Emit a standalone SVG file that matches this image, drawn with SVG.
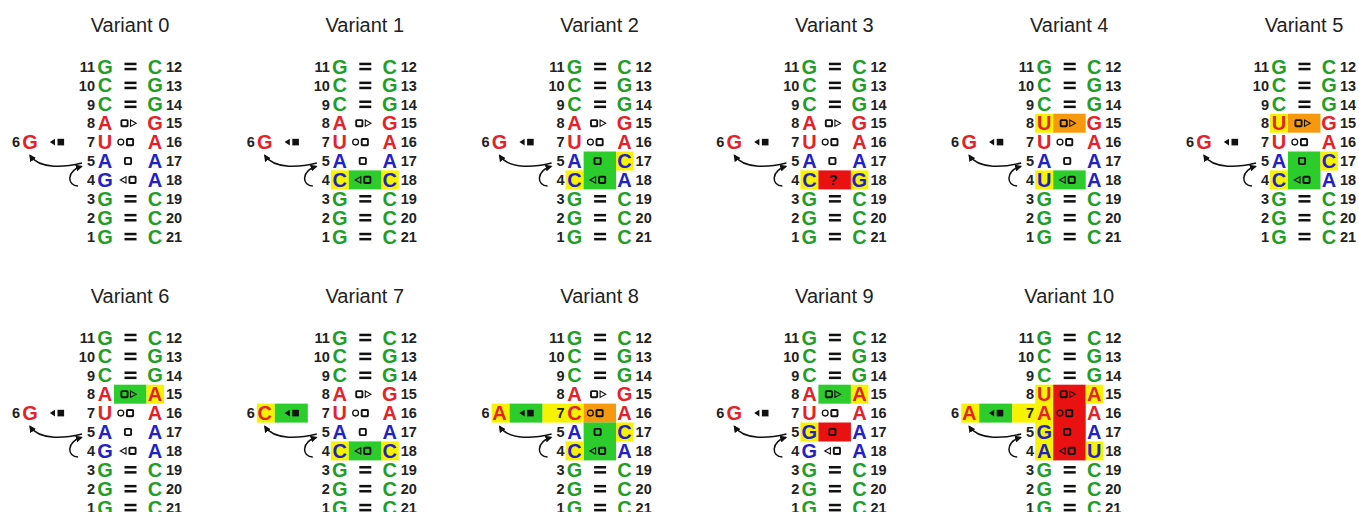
<svg xmlns="http://www.w3.org/2000/svg" xmlns:xlink="http://www.w3.org/1999/xlink" width="1359" height="512" viewBox="0 0 1359 512">
  <style>
    .t{font-family:"Liberation Sans",Arial,sans-serif;font-size:20px;fill:#222;text-anchor:middle}
    .n{font-family:"Liberation Sans",Arial,sans-serif;font-size:14.5px;font-weight:bold;fill:#222}
    .nl{text-anchor:end}
    .b{font-family:"Liberation Sans",Arial,sans-serif;font-size:20px;font-weight:bold;text-anchor:middle}
    .q{font-family:"Liberation Sans",Arial,sans-serif;font-size:14px;font-weight:bold;fill:#111;text-anchor:middle}
    .g{fill:#1f9e2a}
    .r{fill:#e62129}
    .u{fill:#2222c4}
    .y{fill:#f7f300}
    .gr{fill:#2dcc2d}
    .o{fill:#f7990f}
    .rd{fill:#e91111}
    .os{fill:none;stroke:#111;stroke-width:1.9}
    .ot{fill:none;stroke:#111;stroke-width:1.1}
    .k{fill:#111}
    .arr{fill:none;stroke:#111;stroke-width:1.5;marker-end:url(#ah)}
  </style>
  <defs>
    <marker id="ah" viewBox="0 0 10 10" refX="8" refY="5" markerWidth="7" markerHeight="7" markerUnits="userSpaceOnUse" orient="auto">
      <path d="M0,0 L10,5 L0,10 z" fill="#111"/>
    </marker>
    <!-- Leontis-Westhof glyph pieces -->
    <rect id="sq" x="-3.1" y="-3.1" width="6.2" height="6.2" rx="0.8" class="os"/>
    <g id="eq" class="k">
      <rect x="-6" y="-3.8" width="12" height="2.5"/>
      <rect x="-6" y="1.3" width="12" height="2.5"/>
    </g>
    <!-- row 4 pair symbol: open triangle + open square -->
    <g id="s4">
      <path class="ot" d="M126,176.7 L120.3,179.9 L126,183.1 z"/>
      <use href="#sq" x="132.5" y="179.9"/>
    </g>
    <!-- shared helix: constant pairs, numbering and symbols -->
    <g id="stem">
      <g class="b g">
        <text x="105" y="73.5">G</text><text x="155" y="73.5">C</text>
        <text x="105" y="92.4">C</text><text x="155" y="92.4">G</text>
        <text x="105" y="111.3">C</text><text x="155" y="111.3">G</text>
        <text x="105" y="205.8">G</text><text x="155" y="205.8">C</text>
        <text x="105" y="224.7">G</text><text x="155" y="224.7">C</text>
        <text x="105" y="243.6">G</text><text x="155" y="243.6">C</text>
      </g>
      <g class="n nl">
        <text x="95" y="71.7">11</text>
        <text x="95" y="90.6">10</text>
        <text x="95" y="109.5">9</text>
        <text x="95" y="128.4">8</text>
        <text x="95" y="147.3">7</text>
        <text x="95" y="166.2">5</text>
        <text x="95" y="185.1">4</text>
        <text x="95" y="204">3</text>
        <text x="95" y="222.9">2</text>
        <text x="95" y="241.8">1</text>
        <text x="20" y="147.3">6</text>
      </g>
      <g class="n">
        <text x="166" y="71.7">12</text>
        <text x="166" y="90.6">13</text>
        <text x="166" y="109.5">14</text>
        <text x="166" y="128.4">15</text>
        <text x="166" y="147.3">16</text>
        <text x="166" y="166.2">17</text>
        <text x="166" y="185.1">18</text>
        <text x="166" y="204">19</text>
        <text x="166" y="222.9">20</text>
        <text x="166" y="241.8">21</text>
      </g>
      <use href="#eq" x="130.5" y="66.5"/>
      <use href="#eq" x="130.5" y="85.4"/>
      <use href="#eq" x="130.5" y="104.3"/>
      <use href="#eq" x="130.5" y="198.8"/>
      <use href="#eq" x="130.5" y="217.7"/>
      <use href="#eq" x="130.5" y="236.6"/>
      <!-- row 8: square + open triangle -->
      <use href="#sq" x="124.5" y="123.2"/>
      <path class="ot" d="M130.5,120 L136.2,123.2 L130.5,126.4 z"/>
      <!-- row 7: circle + square -->
      <circle class="ot" cx="120.8" cy="142.1" r="2.9" style="stroke-width:1.3"/>
      <use href="#sq" x="130" y="142.1"/>
      <!-- row 5: square -->
      <use href="#sq" x="128" y="161"/>
      <!-- 6: filled triangle + filled square -->
      <path class="k" d="M55,138.8 L49.8,142.1 L55,145.4 z"/>
      <rect class="k" x="57.5" y="138.8" width="6.6" height="6.6"/>
    </g>
    <g id="arr">
      <path class="arr" d="M82,163 C66,167 40,170 30,155.5"/>
      <path class="arr" d="M78,186 C67,186 66,171 81.5,166.5"/>
    </g>
  </defs>

  <rect width="1359" height="512" fill="#fff"/>

  <g id="variant-0">
    <use href="#stem"/><use href="#s4"/>
    <g class="b">
      <text class="r" x="105" y="130.2">A</text><text class="r" x="105" y="149.1">U</text>
      <text class="u" x="105" y="168">A</text><text class="u" x="105" y="186.9">G</text>
      <text class="r" x="155" y="130.2">G</text><text class="r" x="155" y="149.1">A</text>
      <text class="u" x="155" y="168">A</text><text class="u" x="155" y="186.9">A</text>
      <text class="r" x="30" y="149.1">G</text>
    </g>
    <text class="t" x="130" y="31.5">Variant 0</text>
  </g>

  <g id="variant-1" transform="translate(234.8,0)">
    <rect class="y" x="96" y="170.4" width="18" height="19"/>
    <rect class="gr" x="114" y="170.4" width="32.5" height="19"/>
    <rect class="y" x="146.5" y="170.4" width="17.5" height="19"/>
    <use href="#stem"/><use href="#s4"/>
    <g class="b">
      <text class="r" x="105" y="130.2">A</text><text class="r" x="105" y="149.1">U</text>
      <text class="u" x="105" y="168">A</text><text class="u" x="105" y="186.9">C</text>
      <text class="r" x="155" y="130.2">G</text><text class="r" x="155" y="149.1">A</text>
      <text class="u" x="155" y="168">A</text><text class="u" x="155" y="186.9">C</text>
      <text class="r" x="30" y="149.1">G</text>
    </g>
    <text class="t" x="130" y="31.5">Variant 1</text>
  </g>

  <g id="variant-2" transform="translate(469.6,0)">
    <rect class="y" x="96" y="170.4" width="18" height="19"/>
    <rect class="gr" x="114" y="151.5" width="32.5" height="37.9"/>
    <rect class="y" x="146.5" y="151.5" width="17.5" height="19"/>
    <use href="#stem"/><use href="#s4"/>
    <g class="b">
      <text class="r" x="105" y="130.2">A</text><text class="r" x="105" y="149.1">U</text>
      <text class="u" x="105" y="168">A</text><text class="u" x="105" y="186.9">C</text>
      <text class="r" x="155" y="130.2">G</text><text class="r" x="155" y="149.1">A</text>
      <text class="u" x="155" y="168">C</text><text class="u" x="155" y="186.9">A</text>
      <text class="r" x="30" y="149.1">G</text>
    </g>
    <text class="t" x="130" y="31.5">Variant 2</text>
  </g>

  <g id="variant-3" transform="translate(704.4,0)">
    <rect class="y" x="96" y="170.4" width="18" height="19"/>
    <rect class="rd" x="114" y="170.4" width="32.5" height="19"/>
    <rect class="y" x="146.5" y="170.4" width="17.5" height="19"/>
    <use href="#stem"/>
    <text class="q" x="129" y="184.9">?</text>
    <g class="b">
      <text class="r" x="105" y="130.2">A</text><text class="r" x="105" y="149.1">U</text>
      <text class="u" x="105" y="168">A</text><text class="u" x="105" y="186.9">C</text>
      <text class="r" x="155" y="130.2">G</text><text class="r" x="155" y="149.1">A</text>
      <text class="u" x="155" y="168">A</text><text class="u" x="155" y="186.9">G</text>
      <text class="r" x="30" y="149.1">G</text>
    </g>
    <text class="t" x="130" y="31.5">Variant 3</text>
  </g>

  <g id="variant-4" transform="translate(939.2,0)">
    <rect class="y" x="96" y="113.7" width="18" height="19"/>
    <rect class="o" x="114" y="113.7" width="32.5" height="19"/>
    <rect class="y" x="96" y="170.4" width="18" height="19"/>
    <rect class="gr" x="114" y="170.4" width="32.5" height="19"/>
    <use href="#stem"/><use href="#s4"/>
    <g class="b">
      <text class="r" x="105" y="130.2">U</text><text class="r" x="105" y="149.1">U</text>
      <text class="u" x="105" y="168">A</text><text class="u" x="105" y="186.9">U</text>
      <text class="r" x="155" y="130.2">G</text><text class="r" x="155" y="149.1">A</text>
      <text class="u" x="155" y="168">A</text><text class="u" x="155" y="186.9">A</text>
      <text class="r" x="30" y="149.1">G</text>
    </g>
    <text class="t" x="130" y="31.5">Variant 4</text>
  </g>

  <g id="variant-5" transform="translate(1174,0)">
    <rect class="y" x="96" y="113.7" width="18" height="19"/>
    <rect class="o" x="114" y="113.7" width="32.5" height="19"/>
    <rect class="gr" x="114" y="151.5" width="32.5" height="37.9"/>
    <rect class="y" x="146.5" y="151.5" width="17.5" height="19"/>
    <rect class="y" x="96" y="170.4" width="18" height="19"/>
    <use href="#stem"/><use href="#s4"/>
    <g class="b">
      <text class="r" x="105" y="130.2">U</text><text class="r" x="105" y="149.1">U</text>
      <text class="u" x="105" y="168">A</text><text class="u" x="105" y="186.9">C</text>
      <text class="r" x="155" y="130.2">G</text><text class="r" x="155" y="149.1">A</text>
      <text class="u" x="155" y="168">C</text><text class="u" x="155" y="186.9">A</text>
      <text class="r" x="30" y="149.1">G</text>
    </g>
    <text class="t" x="130" y="31.5">Variant 5</text>
  </g>

  <g id="variant-6" transform="translate(0,271)">
    <rect class="gr" x="114" y="113.7" width="32.5" height="19"/>
    <rect class="y" x="146.5" y="113.7" width="17.5" height="19"/>
    <use href="#stem"/><use href="#s4"/>
    <g class="b">
      <text class="r" x="105" y="130.2">A</text><text class="r" x="105" y="149.1">U</text>
      <text class="u" x="105" y="168">A</text><text class="u" x="105" y="186.9">G</text>
      <text class="r" x="155" y="130.2">A</text><text class="r" x="155" y="149.1">A</text>
      <text class="u" x="155" y="168">A</text><text class="u" x="155" y="186.9">A</text>
      <text class="r" x="30" y="149.1">G</text>
    </g>
    <text class="t" x="130" y="31.5">Variant 6</text>
  </g>

  <g id="variant-7" transform="translate(234.8,271)">
    <rect class="y" x="22" y="132.6" width="18" height="19"/>
    <rect class="gr" x="40" y="132.6" width="33" height="19"/>
    <rect class="y" x="96" y="170.4" width="18" height="19"/>
    <rect class="gr" x="114" y="170.4" width="32.5" height="19"/>
    <rect class="y" x="146.5" y="170.4" width="17.5" height="19"/>
    <use href="#stem"/><use href="#s4"/>
    <g class="b">
      <text class="r" x="105" y="130.2">A</text><text class="r" x="105" y="149.1">U</text>
      <text class="u" x="105" y="168">A</text><text class="u" x="105" y="186.9">C</text>
      <text class="r" x="155" y="130.2">G</text><text class="r" x="155" y="149.1">A</text>
      <text class="u" x="155" y="168">A</text><text class="u" x="155" y="186.9">C</text>
      <text class="r" x="30" y="149.1">C</text>
    </g>
    <text class="t" x="130" y="31.5">Variant 7</text>
  </g>

  <g id="variant-8" transform="translate(469.6,271)">
    <rect class="y" x="22" y="132.6" width="18" height="19"/>
    <rect class="gr" x="40" y="132.6" width="33" height="19"/>
    <rect class="y" x="73" y="132.6" width="41" height="19"/>
    <rect class="o" x="114" y="132.6" width="32.5" height="19"/>
    <rect class="gr" x="114" y="151.5" width="32.5" height="37.9"/>
    <rect class="y" x="146.5" y="151.5" width="17.5" height="19"/>
    <rect class="y" x="96" y="170.4" width="18" height="19"/>
    <use href="#stem"/><use href="#s4"/>
    <g class="b">
      <text class="r" x="105" y="130.2">A</text><text class="r" x="105" y="149.1">C</text>
      <text class="u" x="105" y="168">A</text><text class="u" x="105" y="186.9">C</text>
      <text class="r" x="155" y="130.2">G</text><text class="r" x="155" y="149.1">A</text>
      <text class="u" x="155" y="168">C</text><text class="u" x="155" y="186.9">A</text>
      <text class="r" x="30" y="149.1">A</text>
    </g>
    <text class="t" x="130" y="31.5">Variant 8</text>
  </g>

  <g id="variant-9" transform="translate(704.4,271)">
    <rect class="gr" x="114" y="113.7" width="32.5" height="19"/>
    <rect class="y" x="146.5" y="113.7" width="17.5" height="19"/>
    <rect class="y" x="96" y="151.5" width="18" height="19"/>
    <rect class="rd" x="114" y="151.5" width="32.5" height="19"/>
    <use href="#stem"/><use href="#s4"/>
    <g class="b">
      <text class="r" x="105" y="130.2">A</text><text class="r" x="105" y="149.1">U</text>
      <text class="u" x="105" y="168">G</text><text class="u" x="105" y="186.9">G</text>
      <text class="r" x="155" y="130.2">A</text><text class="r" x="155" y="149.1">A</text>
      <text class="u" x="155" y="168">A</text><text class="u" x="155" y="186.9">A</text>
      <text class="r" x="30" y="149.1">G</text>
    </g>
    <text class="t" x="130" y="31.5">Variant 9</text>
  </g>

  <g id="variant-10" transform="translate(939.2,271)">
    <rect class="y" x="22" y="132.6" width="18" height="19"/>
    <rect class="gr" x="40" y="132.6" width="33" height="19"/>
    <rect class="y" x="73" y="132.6" width="23" height="19"/>
    <rect class="y" x="96" y="113.7" width="18" height="75.7"/>
    <rect class="rd" x="114" y="113.7" width="32.5" height="75.7"/>
    <rect class="y" x="146.5" y="113.7" width="17.5" height="19"/>
    <rect class="y" x="146.5" y="170.4" width="17.5" height="19"/>
    <use href="#stem"/><use href="#s4"/>
    <g class="b">
      <text class="r" x="105" y="130.2">U</text><text class="r" x="105" y="149.1">A</text>
      <text class="u" x="105" y="168">G</text><text class="u" x="105" y="186.9">A</text>
      <text class="r" x="155" y="130.2">A</text><text class="r" x="155" y="149.1">A</text>
      <text class="u" x="155" y="168">A</text><text class="u" x="155" y="186.9">U</text>
      <text class="r" x="30" y="149.1">A</text>
    </g>
    <text class="t" x="130" y="31.5">Variant 10</text>
  </g>

  <!-- stacking arrows (6 -> 5 and 4 -> 5) -->
  <g id="connectors">
    <use href="#arr" x="0" y="0"/>
    <use href="#arr" x="234.8" y="0"/>
    <use href="#arr" x="469.6" y="0"/>
    <use href="#arr" x="704.4" y="0"/>
    <use href="#arr" x="939.2" y="0"/>
    <use href="#arr" x="1174" y="0"/>
    <use href="#arr" x="0" y="271"/>
    <use href="#arr" x="234.8" y="271"/>
    <use href="#arr" x="469.6" y="271"/>
    <use href="#arr" x="704.4" y="271"/>
    <use href="#arr" x="939.2" y="271"/>
  </g>
</svg>
